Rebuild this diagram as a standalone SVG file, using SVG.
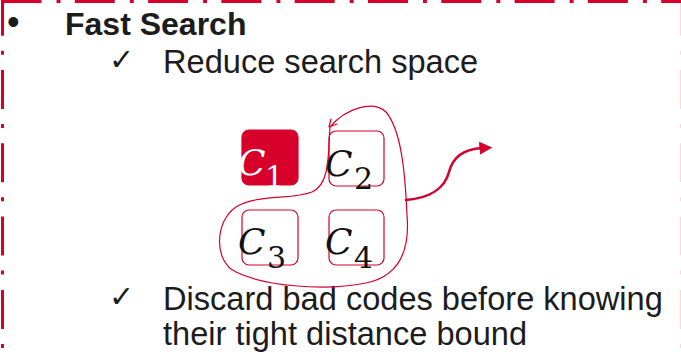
<svg xmlns="http://www.w3.org/2000/svg" width="681" height="360" viewBox="0 0 681 360">
  <style>
    .frame { stroke: #D7002B; stroke-width: 3; fill: none; stroke-dasharray: 39 15 4 15.3; }
    .body { font-family: "Liberation Sans", Arial, sans-serif; font-size: 32.6px; fill: #1c1c1c; }
    .tick { font-family: "DejaVu Sans", sans-serif; font-size: 30px; font-weight: bold; fill: #1c1c1c; }
    .cell { fill: #ffffff; stroke: #D7002B; stroke-width: 1.2; }
    .cell-on { fill: #D7002B; stroke: #D7002B; stroke-width: 1.2; }
    .sym { font-family: "DejaVu Serif", "Liberation Serif", serif; font-style: italic; font-size: 36px; fill: #111; }
    .sub { font-family: "DejaVu Serif", "Liberation Serif", serif; font-size: 30px; fill: #111; }
    .light { fill: #ffffff; }
    .loop { fill: none; stroke: #D7002B; stroke-width: 1.2; stroke-linejoin: round; stroke-linecap: round; }
    .flow { fill: none; stroke: #D7002B; stroke-width: 2.6; stroke-linecap: round; }
  </style>
  <defs>
    <marker id="head" viewBox="0 0 10 10" refX="2" refY="5" markerWidth="5" markerHeight="5" markerUnits="strokeWidth" orient="auto">
      <path d="M0,0 L10,5 L0,10 Z" fill="#D7002B"/>
    </marker>
  </defs>

  <!-- dash-dot frame -->
  <g id="frame">
    <line class="frame" x1="1.5" y1="1.5" x2="681" y2="1.5" style="stroke-dasharray: 40 15 4 14.3"/>
    <line class="frame" x1="2.5" y1="-3.3" x2="2.5" y2="360"/>
    <line class="frame" x1="680.5" y1="-3.3" x2="680.5" y2="360" style="stroke-width:1.5; opacity:0.15"/>
  </g>

  <!-- text -->
  <g id="heading">
    <text x="7" y="34" style="font-family:'Liberation Sans',sans-serif;font-size:36px;fill:#1c1c1c">•</text>
    <text class="body" x="65" y="35" font-weight="bold" style="font-size:32px">Fast Search</text>
  </g>
  <g id="point1">
    <text class="tick" x="109" y="70">✓</text>
    <text class="body" x="163" y="73">Reduce search space</text>
  </g>
  <g id="point2">
    <text class="tick" x="109" y="307">✓</text>
    <text class="body" x="163" y="310">Discard bad codes before knowing</text>
    <text class="body" x="163" y="345">their tight distance bound</text>
  </g>

  <!-- code cells -->
  <g id="c1">
    <rect class="cell-on" x="242" y="130" width="56" height="55" rx="7"/>
    <text class="sym light" x="238" y="175">C</text>
    <text class="sub light" x="265" y="187">1</text>
  </g>
  <g id="c2">
    <rect class="cell" x="329" y="131" width="55" height="55" rx="7"/>
    <text class="sym" x="325" y="176">C</text>
    <text class="sub" x="354" y="189">2</text>
  </g>
  <g id="c3">
    <rect class="cell" x="242" y="210" width="56" height="55" rx="7"/>
    <text class="sym" x="238" y="254">C</text>
    <text class="sub" x="267" y="268">3</text>
  </g>
  <g id="c4">
    <rect class="cell" x="329" y="210" width="55" height="55" rx="7"/>
    <text class="sym" x="325" y="254">C</text>
    <text class="sub" x="354" y="268">4</text>
  </g>

  <!-- connectors -->
  <g id="connectors">
    <path class="loop" d="M330,127 C328,150 331,184 312,192 C292,200 256,194 236,207 C214,222 214,262 236,272 C262,285 322,292 366,283 C400,276 410,250 407,215 C405,170 401,130 386,112 C373,100 346,108 330,127"/>
    <polyline class="loop" points="331,119 329,127 337,124"/>
    <path class="flow" d="M406,200 C430,198 445,188 449,172 C453,156 465,149 482,148" marker-end="url(#head)"/>
  </g>
</svg>
